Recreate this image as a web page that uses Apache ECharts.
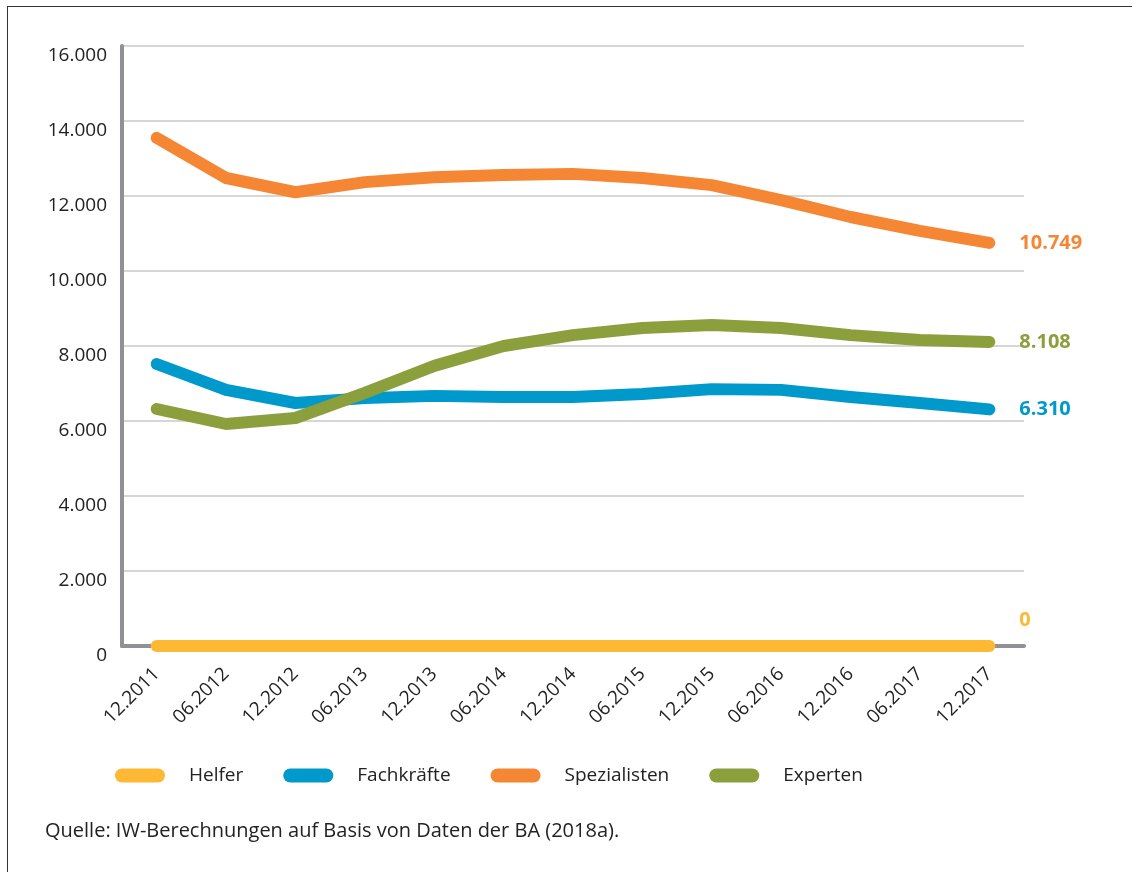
<!DOCTYPE html>
<html>
<head>
<meta charset="utf-8">
<script src="https://cdn.jsdelivr.net/npm/echarts@6/dist/echarts.min.js"></script>
<style>
html,body{margin:0;padding:0;background:#fff;}
#frame{position:absolute;left:7px;top:6px;width:1140px;height:880px;border-left:1.5px solid #333;border-top:1.5px solid #333;}
#chart{position:absolute;left:0;top:0;width:1132px;height:872px;}
</style>
</head>
<body>
<div id="frame"></div>
<div id="chart"></div>
<script>
const categories = ['12.2011','06.2012','12.2012','06.2013','12.2013','06.2014','12.2014','06.2015','12.2015','06.2016','12.2016','06.2017','12.2017'];
const helfer = [0,0,0,0,0,0,0,0,0,0,0,0,0];
const fachkraefte = [7520,6830,6480,6610,6670,6640,6640,6720,6850,6830,6640,6480,6310];
const spezialisten = [13550,12480,12100,12370,12500,12560,12590,12480,12290,11890,11440,11070,10749];
const experten = [6320,5920,6080,6750,7470,8000,8290,8480,8560,8480,8290,8160,8108];
const seriesNames = ['Helfer','Fachkräfte','Spezialisten','Experten'];
const colors = ['#FDB933','#0099CC','#F58634','#8BA03D'];
const endLabels = ['0','6.310','10.749','8.108'];
const yTicks = [0,2000,4000,6000,8000,10000,12000,14000,16000];

const FONT = '"Open Sans", "Noto Sans", sans-serif';
const chart = echarts.init(document.getElementById('chart'));
const dataSets = [helfer, fachkraefte, spezialisten, experten];

function fmt(v){ return v === 0 ? '0' : String(v).replace(/\B(?=(\d{3})+(?!\d))/g, '.'); }

const series = dataSets.map((d,i)=>({
  name: seriesNames[i],
  type: 'line',
  data: d,
  symbol: 'none',
  smooth: false,
  z: 3 + i,
  lineStyle: {width: 12, color: colors[i], cap: 'round', join: 'round'},
  itemStyle: {color: colors[i]},
  endLabel: {
    show: true,
    formatter: endLabels[i],
    color: colors[i],
    fontFamily: FONT,
    fontWeight: 'bold',
    fontSize: 20,
    distance: 30,
    offset: i === 0 ? [0, -26] : [0, 0]
  }
}));

chart.setOption({
  animation: false,
  grid: {left: 122, right: 108, top: 46, bottom: 226, containLabel: false},
  legend: {
    data: seriesNames.map((n,i)=>({name:n, icon:'path://M7,0 L43,0 A7,7 0 0 1 43,14 L7,14 A7,7 0 0 1 7,0 Z'})),
    left: 110,
    top: 761,
    itemWidth: 50,
    itemHeight: 14,
    itemGap: 40,
    textStyle: {fontFamily: FONT, fontSize: 19, color: '#222', padding: [0,0,0,19]}
  },
  color: colors,
  xAxis: {
    type: 'category',
    data: categories,
    boundaryGap: true,
    axisLine: {show: true, lineStyle: {color: '#909095', width: 4}},
    axisTick: {show: false},
    axisLabel: {rotate: 45, fontFamily: FONT, fontSize: 19, color: '#222', margin: 25, interval: 0}
  },
  yAxis: {
    type: 'value',
    min: 0, max: 16000, interval: 2000,
    axisLine: {show: true, lineStyle: {color: '#909095', width: 4}},
    axisTick: {show: false},
    splitLine: {lineStyle: {color: '#d6d6d6', width: 2}},
    axisLabel: {fontFamily: FONT, fontSize: 19, color: '#222', margin: 15, verticalAlign: 'top', formatter: fmt}
  },
  series: series,
  graphic: [{
    type: 'text', left: 45, top: 821,
    style: {text: 'Quelle: IW-Berechnungen auf Basis von Daten der BA (2018a).', fontFamily: FONT, fontSize: 20, fill: '#222'}
  }]
});
</script>
</body>
</html>
